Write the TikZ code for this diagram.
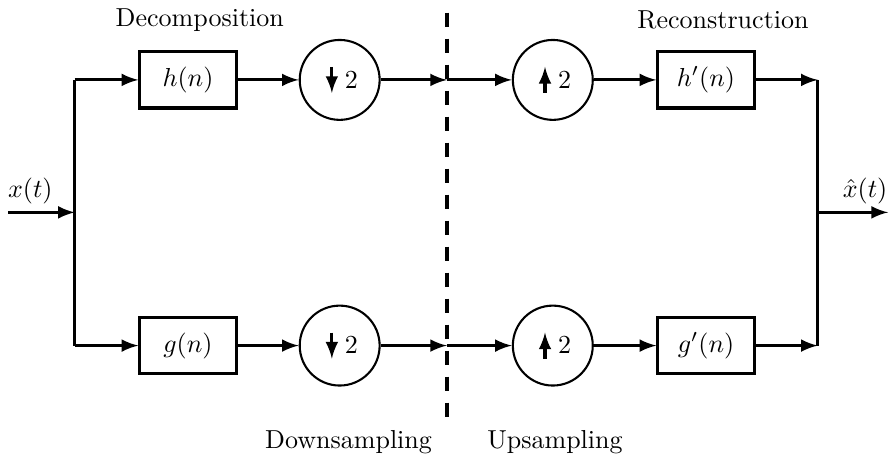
\documentclass[tikz,border=0pt]{standalone}

\tikzset{
  filtre/.style={draw, very thick, minimum width=1.3cm, minimum height=0.76cm, inner sep=0pt},
  echant/.style={draw, thick, circle, minimum size=1.08cm, inner sep=0pt},
  fleche/.style={->,>=latex,very thick},
}

\begin{document}
\begin{tikzpicture}[scale=1]
\useasboundingbox (0,0) rectangle (12.04,6.22);

% Bus d'entree et de sortie
\coordinate (in) at (0.11,3.35);
\coordinate (bg) at (1.01,3.35);
\coordinate (bgh) at (1.01,5.14);
\coordinate (bgb) at (1.01,1.55);
\coordinate (bd) at (11.05,3.35);
\coordinate (bdh) at (11.05,5.14);
\coordinate (bdb) at (11.05,1.55);
\coordinate (out) at (12.0,3.35);

% Filtres
\node[filtre] (h) at (2.54,5.14) {$h(n)$};
\node[filtre] (g) at (2.54,1.55) {$g(n)$};
\node[filtre] (hp) at (9.54,5.14) {$h'(n)$};
\node[filtre] (gp) at (9.54,1.55) {$g'(n)$};

% Sous- et sur-echantillonnage
\node[echant] (dh) at (4.59,5.14) {\hspace*{9pt}$2$};
\node[echant] (db) at (4.59,1.55) {\hspace*{9pt}$2$};
\node[echant] (uh) at (7.47,5.14) {\hspace*{9pt}$2$};
\node[echant] (ub) at (7.47,1.55) {\hspace*{9pt}$2$};
\foreach \c in {dh,db} {
  \draw[-latex,line width=1.2pt] ([shift={(-3pt,5pt)}]\c.center) -- ([shift={(-3pt,-5pt)}]\c.center);
}
\foreach \c in {uh,ub} {
  \draw[-latex,line width=1.2pt] ([shift={(-3pt,-5pt)}]\c.center) -- ([shift={(-3pt,5pt)}]\c.center);
}

% Coupure
\coordinate (ch) at (6.04,5.14);
\coordinate (cb) at (6.04,1.55);
\draw[line width=1.5pt, dash pattern=on 5.4pt off 4.6pt] (6.04,6.05) -- (6.04,0.5);

% Branches
\draw[fleche] (in) -- (bg);
\draw[very thick] (bgh) -- (bgb);
\draw[fleche] (bgh) -- (h);
\draw[fleche] (bgb) -- (g);
\draw[fleche] (h) -- (dh);
\draw[fleche] (g) -- (db);
\draw[fleche] (dh) -- (ch);
\draw[fleche] (db) -- (cb);
\draw[fleche] (ch) -- (uh);
\draw[fleche] (cb) -- (ub);
\draw[fleche] (uh) -- (hp);
\draw[fleche] (ub) -- (gp);
\draw[fleche] (hp) -- (bdh);
\draw[fleche] (gp) -- (bdb);
\draw[very thick] (bdh) -- (bdb);
\draw[fleche] (bd) -- (out);

% Etiquettes
\node (x) at (0.41,3.64) {$x(t)$};
\node (xc) at (11.69,3.64) {$\hat{x}(t)$};
\node (dec) at (2.70,5.95) {Decomposition};
\node (rec) at (9.77,5.95) {Reconstruction};
\node (down) at (4.71,0.25) {Downsampling};
\node (up) at (7.50,0.25) {Upsampling};

\end{tikzpicture}
\end{document}
